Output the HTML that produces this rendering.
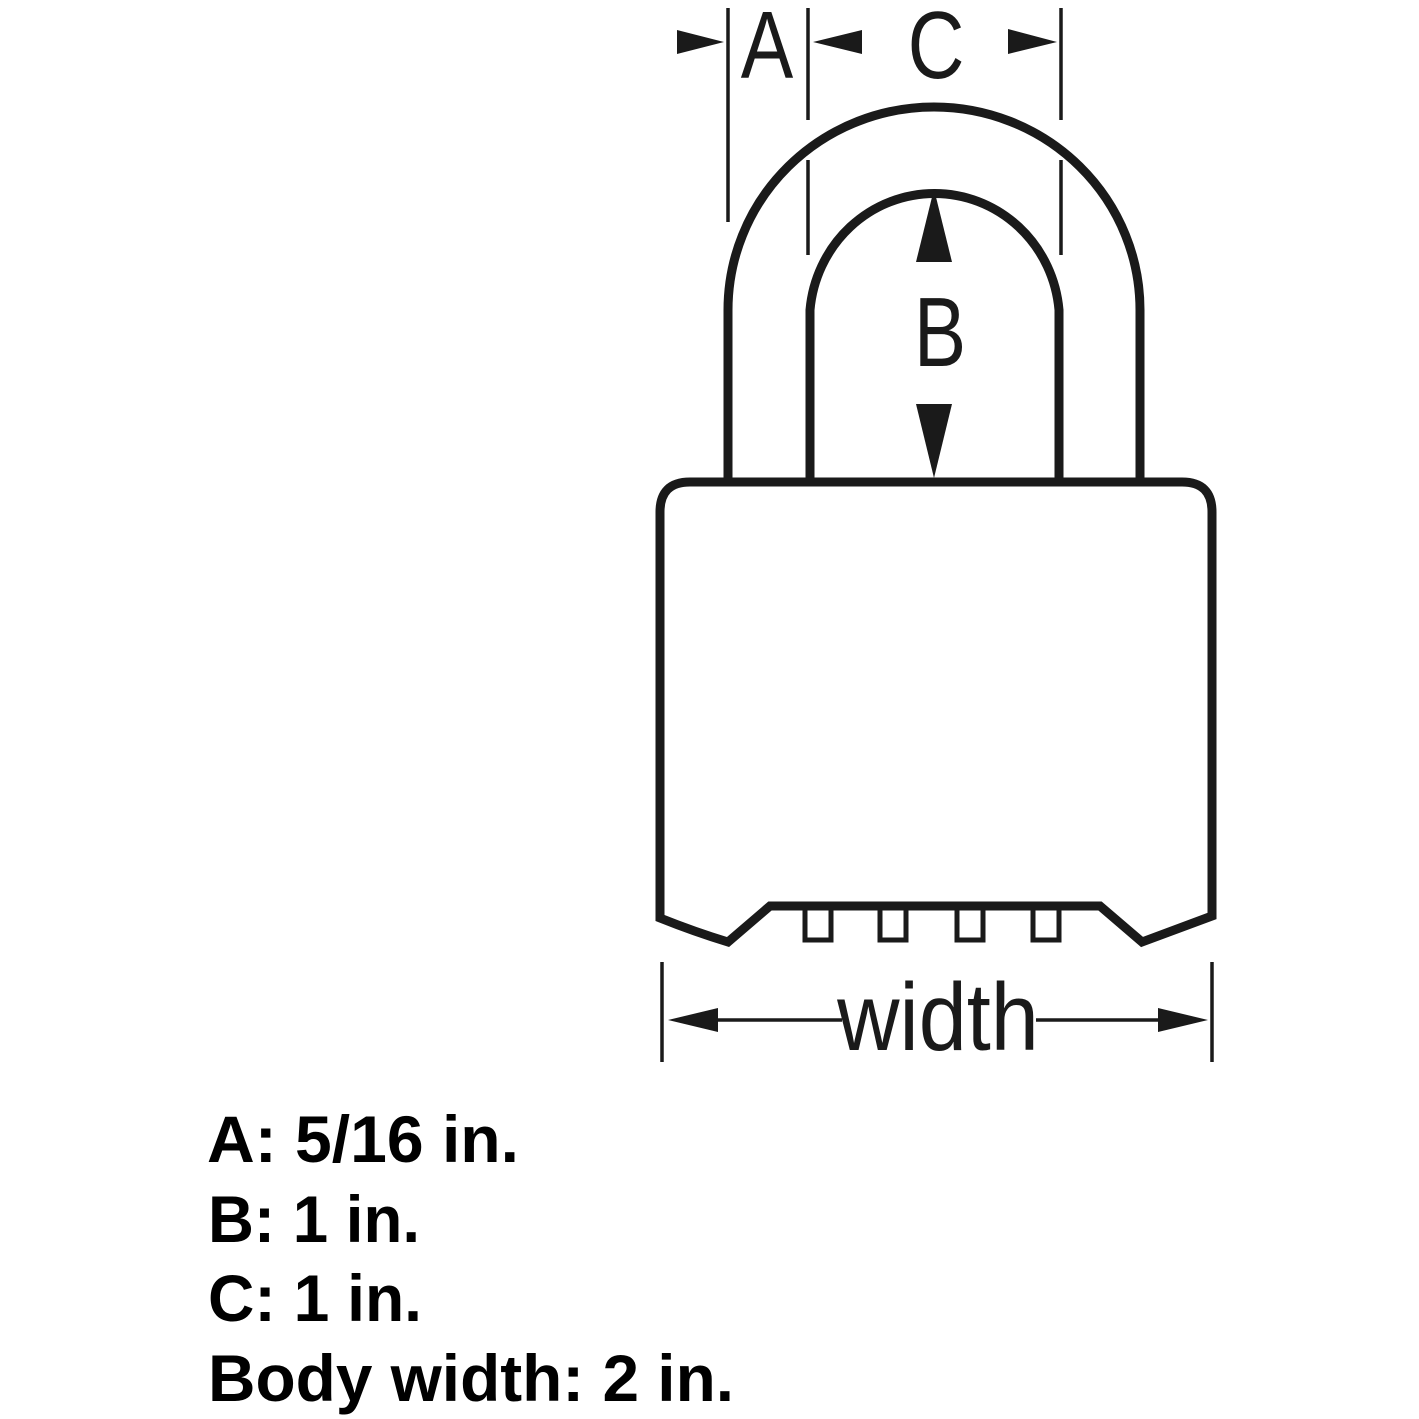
<!DOCTYPE html>
<html><head><meta charset="utf-8"><style>
html,body{margin:0;padding:0;background:#fff}
svg{display:block}
</style></head><body>
<svg width="1419" height="1419" viewBox="0 0 1419 1419" xmlns="http://www.w3.org/2000/svg">
<g fill="none" stroke="#1a1a1a" stroke-width="9">
<path d="M728,482 V310 A206,203 0 0 1 1140,310 V482"/>
<path d="M810,482 V310 A125,128 0 0 1 1059,310 V482"/>
<path d="M690,482 H1182 Q1212,482 1212,512 V916 Q1180,928 1142,942 L1100,906 H770 L728,942 Q695,932 660,918 V512 Q660,482 690,482 Z"/>
</g>
<g fill="none" stroke="#1a1a1a" stroke-width="5">
<rect x="805" y="906" width="26" height="34"/>
<rect x="880" y="906" width="26" height="34"/>
<rect x="957" y="906" width="26" height="34"/>
<rect x="1033" y="906" width="26" height="34"/>
</g>
<g stroke="#1a1a1a" stroke-width="3.5">
<line x1="728" y1="8" x2="728" y2="222"/>
<line x1="808" y1="8" x2="808" y2="120"/>
<line x1="808" y1="160" x2="808" y2="255"/>
<line x1="1061" y1="8" x2="1061" y2="120"/>
<line x1="1061" y1="160" x2="1061" y2="255"/>
<line x1="662" y1="962" x2="662" y2="1062"/>
<line x1="1212" y1="962" x2="1212" y2="1062"/>
<line x1="700" y1="1020" x2="842" y2="1020"/>
<line x1="1036" y1="1020" x2="1180" y2="1020"/>
</g>
<g fill="#1a1a1a">
<polygon points="677,30 724,42 677,54"/>
<polygon points="862,30 813,42 862,54"/>
<polygon points="1008,29 1057,42 1008,54"/>
<polygon points="934,189 952,262 916,262"/>
<polygon points="916,404 952,404 934,478"/>
<polygon points="668,1020 718,1008 718,1032"/>
<polygon points="1208,1020 1158,1008 1158,1032"/>
</g>
<g font-family="Liberation Sans, sans-serif" fill="#1a1a1a" text-anchor="middle">
<text x="767" y="78" font-size="96" transform="translate(767 78) scale(0.82 1) translate(-767 -78)">A</text>
<text x="936" y="78" font-size="96" transform="translate(936 78) scale(0.82 1) translate(-936 -78)">C</text>
<text x="940" y="366" font-size="98" transform="translate(940 366) scale(0.8 1) translate(-940 -366)">B</text>
<text x="938" y="1050" font-size="96" transform="translate(938 1050) scale(0.9 1) translate(-938 -1050)">width</text>
</g>
<g font-family="Liberation Sans, sans-serif" font-weight="bold" font-size="66" fill="#000">
<text x="207" y="1162" textLength="312" lengthAdjust="spacingAndGlyphs">A: 5/16 in.</text>
<text x="208" y="1242" textLength="212" lengthAdjust="spacingAndGlyphs">B: 1 in.</text>
<text x="208" y="1321" textLength="214" lengthAdjust="spacingAndGlyphs">C: 1 in.</text>
<text x="208" y="1401" textLength="526" lengthAdjust="spacingAndGlyphs">Body width: 2 in.</text>
</g>
</svg>
</body></html>
